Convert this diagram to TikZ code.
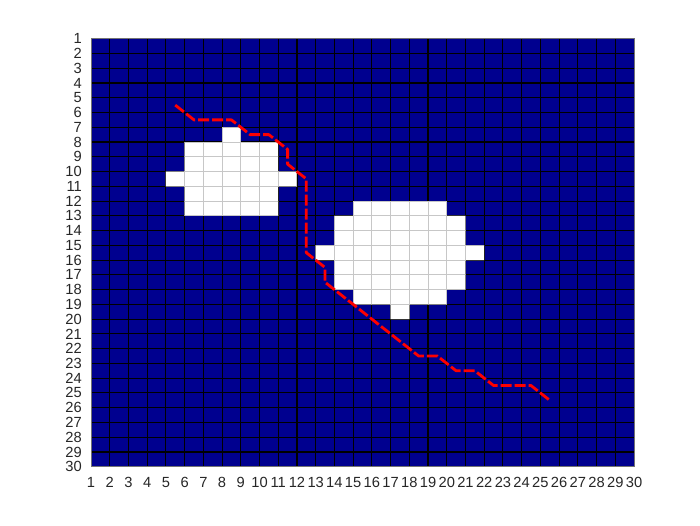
\documentclass[tikz,border=0pt]{standalone}
\usepackage{fontspec}
\setmainfont{Liberation Sans}
\definecolor{cellblue}{RGB}{0,0,143}
\definecolor{axisgray}{RGB}{38,38,38}
\definecolor{pathred}{RGB}{255,0,0}
\tikzset{
  blackgrid/.style={draw=black, line width=1.1pt},
  lightgrid/.style={draw=black!22, line width=1pt},
  axisbox/.style={draw=black!55, line width=0.9pt},
  ticklabel/.style={inner sep=0pt, text=axisgray, font=\fontsize{14.7}{16}\selectfont},
  routeline/.style={draw=pathred, line width=2.8pt, dash pattern=on 11pt off 3pt, line join=round}
}
\def\whitecells{(6,8) rectangle (11,13) (8,7) rectangle (9,8) (5,10) rectangle (6,11) (11,10) rectangle (12,11)
  (15,12) rectangle (20,13) (14,13) rectangle (21,18) (13,15) rectangle (14,16) (21,15) rectangle (22,16)
  (15,18) rectangle (20,19) (17,19) rectangle (18,20)}
\begin{document}
\begin{tikzpicture}[x=18.724pt, y=-14.759pt]
\useasboundingbox (-3.860,-1.622) rectangle (33.525,33.950);
% background cells
\fill[cellblue] (1,1) rectangle (30,30);
\foreach \i in {2,...,29} {
  \draw[blackgrid] (\i,1) -- (\i,30);
  \draw[blackgrid] (1,\i) -- (30,\i);
}
% free cells (white)
\fill[white] \whitecells;
\begin{scope}
  \clip \whitecells;
  \foreach \i in {2,...,29} {
    \draw[lightgrid] (\i,1) -- (\i,30);
    \draw[lightgrid] (1,\i) -- (30,\i);
  }
\end{scope}
% axes box
\draw[axisbox] (1,1) rectangle (30,30);
% tick labels
\foreach \i in {1,...,30} {
  \node[ticklabel, anchor=east, xshift=-9pt] (yl\i) at (1,\i) {\i};
  \node[ticklabel, anchor=north, yshift=-10.5pt] (xl\i) at (\i,30) {\i};
}
% path
\draw[routeline] (5.5,5.5) -- (6.5,6.5) -- (8.5,6.5) -- (9.5,7.5) -- (10.5,7.5) -- (11.5,8.5)
  -- (11.5,9.5) -- (12.5,10.5) -- (12.5,15.5) -- (13.5,16.5) -- (13.5,17.5) -- (18.5,22.5)
  -- (19.5,22.5) -- (20.5,23.5) -- (21.5,23.5) -- (22.5,24.5) -- (24.5,24.5) -- (25.5,25.5);
\end{tikzpicture}
\end{document}
